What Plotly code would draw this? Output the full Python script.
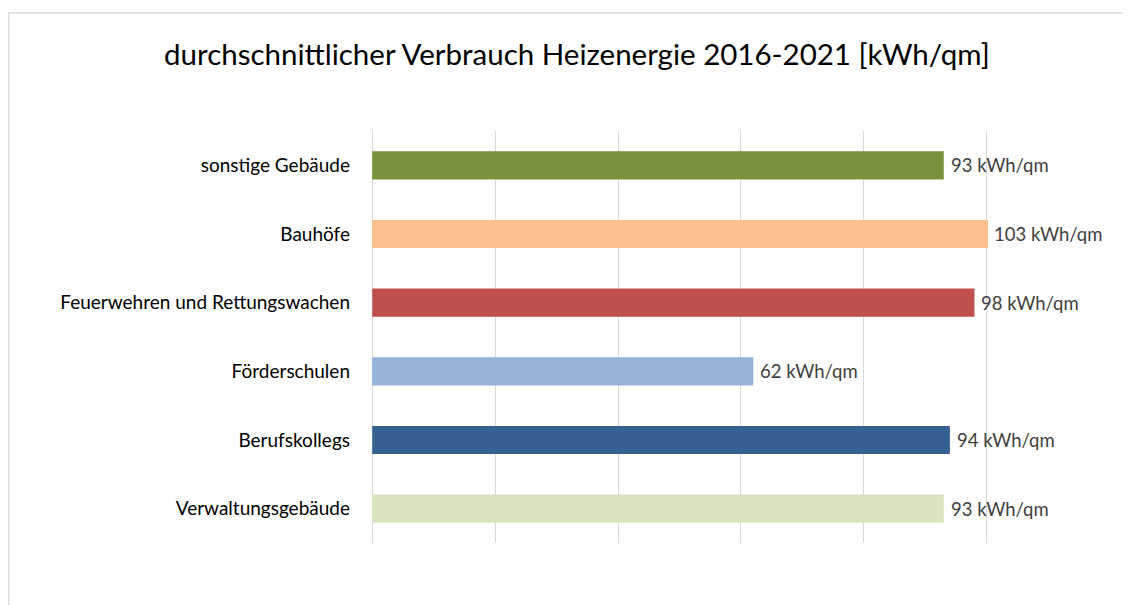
import plotly.graph_objects as go

categories = ["Verwaltungsgebäude", "Berufskollegs", "Förderschulen",
              "Feuerwehren und Rettungswachen", "Bauhöfe", "sonstige Gebäude"]
values = [93, 94, 62, 98, 103, 93]
colors = ["#D7E4BD", "#376092", "#95B3D7", "#C0504D", "#FAC090", "#77933C"]
unit = "kWh/qm"
title = "durchschnittlicher Verbrauch Heizenergie 2016-2021 [kWh/qm]"
x_max = 100
x_ticks = [0, 20, 40, 60, 80, 100]

font_family = "Lato, 'Open Sans', sans-serif"

fig = go.Figure(go.Bar(
    y=categories, x=values, orientation="h",
    marker=dict(color=colors, line=dict(width=0)),
    hoverinfo="skip",
))

for c, v in zip(categories, values):
    fig.add_annotation(
        x=min(v, x_max), y=c, xref="x", yref="y",
        text=f"{v} {unit}", showarrow=False,
        xanchor="left", xshift=5,
        font=dict(family=font_family, size=18.5, color="#404040"),
    )

# light chart-area frame
fig.add_shape(type="rect", xref="paper", yref="paper",
              x0=-362.5/617, x1=1.5, y0=-0.5, y1=1 + 118/412,
              line=dict(color="#D9D9D9", width=1.5), fillcolor="rgba(0,0,0,0)",
              layer="below")

fig.update_layout(
    width=1131, height=605,
    margin=dict(l=363, r=151, t=123, b=70),
    paper_bgcolor="white", plot_bgcolor="white",
    bargap=0.59,
    showlegend=False,
    title=dict(text=title, x=0.503, xanchor="center", y=0.9236, yanchor="middle",
               font=dict(family=font_family, size=29.5, color="#000000")),
    xaxis=dict(range=[-0.2, x_max + 0.2], tickvals=x_ticks, showticklabels=False,
               showgrid=True, gridcolor="#D9D9D9", gridwidth=1.3,
               zeroline=False, showline=False, fixedrange=True),
    yaxis=dict(showgrid=False, zeroline=False, showline=False, ticks="",
               ticklabelstandoff=20,
               tickfont=dict(family=font_family, size=19, color="#000000")),
)

fig.write_html("out.html")
